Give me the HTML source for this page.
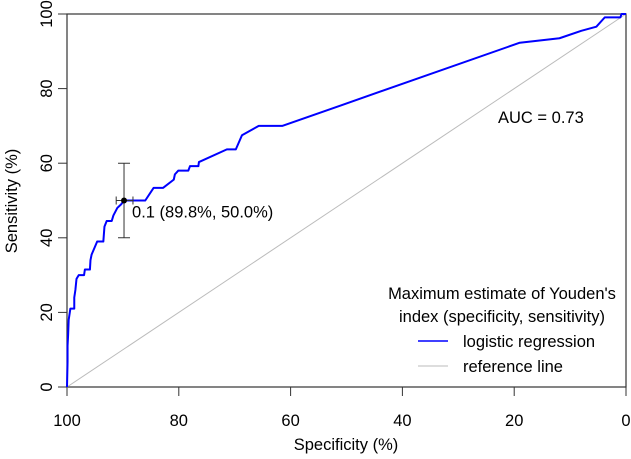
<!DOCTYPE html>
<html><head><meta charset="utf-8"><style>
body{margin:0;background:#fff}
svg{display:block;font-family:"Liberation Sans",Arial,sans-serif}
</style></head><body>
<svg width="631" height="459" viewBox="0 0 631 459">
<g id="ax"></g>
<g id="marks"></g>
<text x="498" y="123" font-size="16.5" fill="#000">AUC = 0.73</text>
<text x="502" y="299" font-size="16.5" text-anchor="middle">Maximum estimate of Youden's</text>
<text x="502" y="322" font-size="16.5" text-anchor="middle">index (specificity, sensitivity)</text>
<line x1="418" y1="341" x2="448" y2="341" stroke="#0000ff" stroke-width="1.5"/>
<text x="463" y="347" font-size="16.5">logistic regression</text>
<line x1="418" y1="366" x2="448" y2="366" stroke="#bbb" stroke-width="1"/>
<text x="463" y="372" font-size="16.5">reference line</text>
<text x="346" y="450" font-size="16.5" text-anchor="middle">Specificity (%)</text>
<text transform="translate(17,201) rotate(-90)" font-size="16.5" text-anchor="middle">Sensitivity (%)</text>
</svg>
<script>
const spec = [100,99.9,99.9,99.8,99.7,99.4,98.7,98.7,98.5,98.3,97.9,96.95,96.8,95.9,95.8,95.6,94.6,93.5,93.3,92.9,92,91.7,91,90.3,89.8,86.0,84.5,82.8,80.9,80.7,80.1,78.3,78,76.5,76.4,71.4,69.8,68.7,68.1,65.7,61.5,51,19.0,11.9,8,5.3,3.8,1.0,0.8,0];
const sens = [0,6.7,11,14,18,21,21,24,26,29,30,30,31.5,31.5,34,35.5,39,39,43,44.5,44.5,46,48,49,50,50,53.4,53.4,55.6,57,58,58,59.2,59.2,60.3,63.7,63.7,67.5,68,70,70,75.5,92.3,93.5,95.5,96.6,99.1,99.1,100,100];
const xTicks = [100,80,60,40,20,0];
const yTicks = [0,20,40,60,80,100];
const optSpec = 89.8, optSens = 50.0, optCI = [40,60], optSpecCI = [88.2,91.2];
const NS="http://www.w3.org/2000/svg";
const X = s => 67 + (100 - s) * 5.59;
const Y = v => 387 - v * 3.73;
function mk(tag, attrs, parent){const e=document.createElementNS(NS,tag);for(const k in attrs)e.setAttribute(k,attrs[k]);parent.appendChild(e);return e;}
const ax=document.getElementById('ax'), mg=document.getElementById('marks');
let b=mk('rect',{x:X(100),y:Y(100),width:X(0)-X(100),height:Y(0)-Y(100),fill:'none',stroke:'#333','stroke-width':1.2},ax);


xTicks.forEach(t=>{
  let l=mk('line',{x1:X(t),x2:X(t),y1:Y(0),y2:Y(0)+9,stroke:'#333'},ax);
  
  
  let tx=mk('text',{x:X(t),y:426,'font-size':16.5,'text-anchor':'middle'},ax);tx.textContent=t;
  
  
});
yTicks.forEach(t=>{
  let l=mk('line',{x1:X(100)-9,x2:X(100),y1:Y(t),y2:Y(t),stroke:'#333'},ax);
  
  
  let tx=mk('text',{transform:`translate(52,${Y(t)}) rotate(-90)`,'font-size':16.5,'text-anchor':'middle'},ax);tx.textContent=t;
  
  
});
let ref=mk('line',{x1:X(100),y1:Y(0),x2:X(0),y2:Y(100),stroke:'#bbb','stroke-width':1},mg);


let p=mk('polyline',{points:spec.map((s,i)=>X(s)+','+Y(sens[i])).join(' '),fill:'none',stroke:'#0000ff','stroke-width':2,'stroke-linejoin':'round'},mg);


const ex=X(optSpec), ey=Y(optSens);
let eb=mk('path',{d:`M${ex},${Y(optCI[0])}V${Y(optCI[1])}M${ex-6},${Y(optCI[0])}H${ex+6}M${ex-6},${Y(optCI[1])}H${ex+6}M${X(optSpecCI[0])},${ey}H${X(optSpecCI[1])}M${X(optSpecCI[0])},${ey-4}V${ey+4}M${X(optSpecCI[1])},${ey-4}V${ey+4}`,stroke:'#333',fill:'none'},mg);


let c=mk('circle',{cx:ex,cy:ey,r:3,fill:'#000'},mg);


let ol=mk('text',{x:ex+8,y:ey+17,'font-size':16.5},mg);
ol.textContent='0.1 (89.8%, 50.0%)';


</script>
</body></html>
